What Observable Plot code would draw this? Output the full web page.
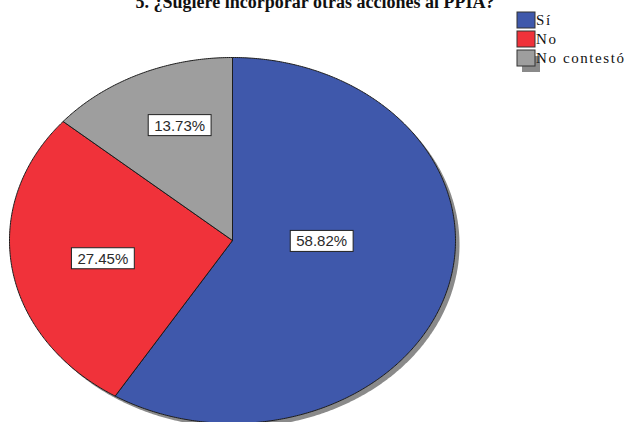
<!DOCTYPE html>
<html>
<head>
<meta charset="utf-8">
<script src="https://cdn.jsdelivr.net/npm/d3@7"></script>
<script src="https://cdn.jsdelivr.net/npm/@observablehq/plot@0.6"></script>
<style>
  html, body { margin: 0; padding: 0; background: #fff; overflow: hidden; }
  svg { display: block; }
</style>
</head>
<body>
<div id="chart"></div>
<script>
// ---- data ----
const title = "5. ¿Sugiere incorporar otras acciones al PPIA?";
const categories = ["Sí", "No", "No contestó"];
const values = [58.82, 27.45, 13.73];
const valueLabels = ["58.82%", "27.45%", "13.73%"];
const colors = ["#3f58ab", "#f0323a", "#9e9e9e"];

// ---- layout (styling only) ----
const labelRadius = [0.40, 0.59, 0.67];
const labelAngleShift = [-15, -1, 4];

const pie = d3.pie().sort(null).value(d => d)(values);
const step = Math.PI / 360;

function arcPoints(a0, a1, cat) {
  const pts = [{cat, x: 0, y: 0}];
  const n = Math.max(2, Math.ceil((a1 - a0) / step));
  for (let k = 0; k <= n; k++) {
    const a = a0 + (a1 - a0) * k / n;
    pts.push({cat, x: Math.sin(a), y: Math.cos(a)});
  }
  pts.push({cat, x: 0, y: 0});
  return pts;
}

const shadow = [];
for (let k = 0; k <= 720; k++) {
  const a = 2 * Math.PI * k / 720;
  shadow.push({x: Math.sin(a), y: Math.cos(a)});
}

const labelData = pie.map((p, i) => {
  const a = (p.startAngle + p.endAngle) / 2 + labelAngleShift[i] * Math.PI / 180;
  return {x: labelRadius[i] * Math.sin(a), y: labelRadius[i] * Math.cos(a), text: valueLabels[i]};
});

const marks = [
  Plot.line(shadow, {x: "x", y: "y", fill: "#8a8a8a", stroke: "none", dx: 4, dy: 4, curve: "linear"}),
  ...pie.map((p, i) => Plot.line(arcPoints(p.startAngle, p.endAngle, categories[i]), {
    x: "x", y: "y", fill: colors[i], stroke: "#1c1c1c", strokeWidth: 1, strokeLinejoin: "round", curve: "linear"
  })),
  Plot.text(labelData, {x: "x", y: "y", text: "text", fontSize: 15, fontFamily: "Liberation Sans, Arial, sans-serif", fill: "#2a2a2a", className: "vlabels"})
];

const svg = Plot.plot({
  width: 629,
  height: 422,
  margin: 0,
  style: {background: "#fff", overflow: "hidden"},
  x: {domain: [-1, 1], range: [9, 455], axis: null},
  y: {domain: [-1, 1], range: [423, 57], axis: null},
  marks
});
document.getElementById("chart").appendChild(svg);

const s = d3.select(svg);

// boxes behind value labels
s.selectAll("g.vlabels text").each(function() {
  const b = this.getBBox();
  const padX = 6, padY = 2;
  d3.select(this.parentNode).insert("rect", () => this)
    .attr("transform", this.getAttribute("transform"))
    .attr("x", b.x - padX).attr("y", b.y - padY)
    .attr("width", b.width + 2 * padX).attr("height", b.height + 2 * padY)
    .attr("fill", "#fff").attr("stroke", "#222").attr("stroke-width", 1);
});

// title
s.append("text")
  .attr("x", 315).attr("y", 8)
  .attr("text-anchor", "middle")
  .attr("font-family", "Liberation Serif, Times New Roman, serif")
  .attr("font-weight", "bold")
  .attr("font-size", 18)
  .attr("fill", "#111")
  .text(title);

// legend
const lg = s.append("g").attr("text-anchor", "start");
const lx = 517, ly = 12, pitch = 19, bw = 18, bh = 16;
lg.append("rect")
  .attr("x", lx + 5).attr("y", ly + (categories.length - 1) * pitch + 6)
  .attr("width", bw).attr("height", bh).attr("fill", "#8a8a8a");
categories.forEach((c, i) => {
  lg.append("rect")
    .attr("x", lx).attr("y", ly + i * pitch)
    .attr("width", bw).attr("height", bh)
    .attr("fill", colors[i]).attr("stroke", "#333").attr("stroke-width", 1);
  lg.append("text")
    .attr("x", lx + bw + 1).attr("y", ly + i * pitch + bh / 2)
    .attr("dy", "0.35em")
    .attr("text-anchor", "start")
    .attr("font-family", "Liberation Serif, Times New Roman, serif")
    .attr("font-size", 15)
    .attr("letter-spacing", 1.6)
    .attr("fill", "#111")
    .text(c);
});
</script>
</body>
</html>
